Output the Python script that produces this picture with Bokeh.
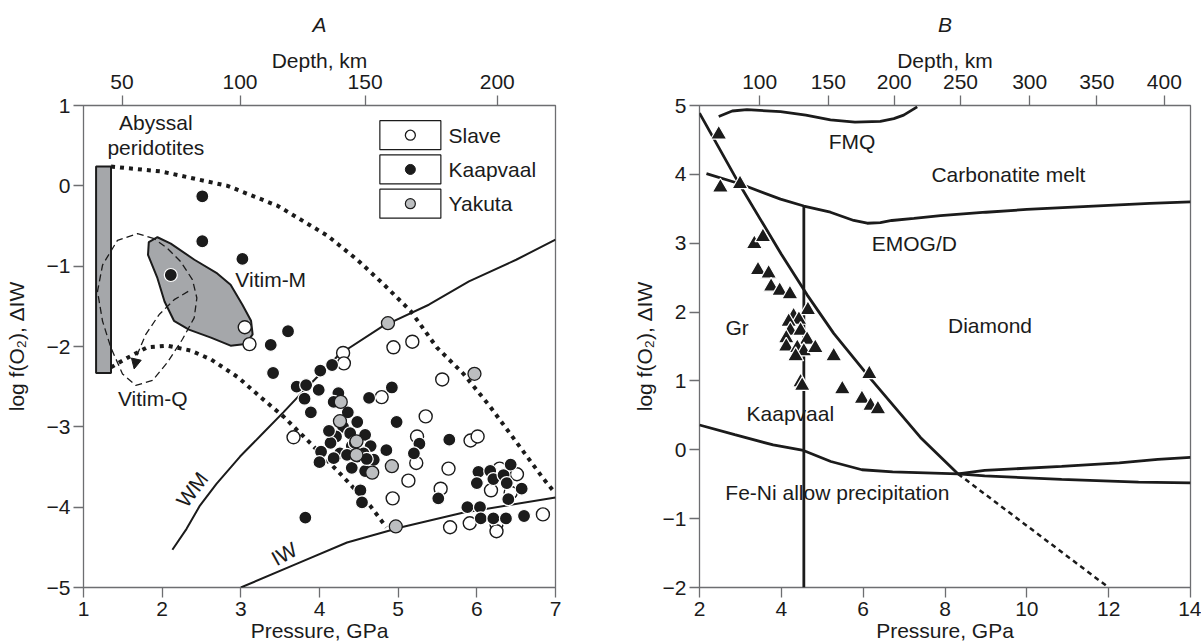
from bokeh.plotting import figure
from bokeh.layouts import row
from bokeh.models import FixedTicker, LinearAxis, Range1d, Arrow, NormalHead
from bokeh.core.properties import value
from bokeh.embed import file_html
from bokeh.resources import INLINE

# ------------------------------------------------------------------ data: panel A
A_X_TICKS = [1, 2, 3, 4, 5, 6, 7]
A_Y_TICKS = [-5, -4, -3, -2, -1, 0, 1]
A_DEPTH_LABELS = ["50", "100", "150", "200"]
A_DEPTH_AT_P = [1.49, 2.99, 4.58, 6.26]

ABYSSAL_P = [1.16, 1.35]
ABYSSAL_F = [-2.33, 0.24]

UPPER_P = [1.35, 1.98, 2.83, 3.47, 4.10, 4.48, 4.82, 5.16, 5.49, 5.83, 6.17, 6.51, 6.85, 7.00]
UPPER_F = [0.24, 0.18, 0.00, -0.25, -0.62, -0.92, -1.23, -1.56, -2.01, -2.34, -2.75, -3.20, -3.65, -3.83]

LOWER_P = [1.35, 1.56, 1.81, 2.07, 2.36, 2.62, 2.96, 3.25, 3.54, 3.88, 4.30, 4.65, 4.85]
LOWER_F = [-2.26, -2.14, -2.01, -1.99, -2.05, -2.16, -2.38, -2.63, -2.87, -3.20, -3.62, -3.99, -4.25]

WM_P = [2.13, 2.31, 2.48, 2.69, 2.99, 3.28, 3.54, 3.80, 4.25, 4.80, 5.39, 5.90, 6.50, 7.00]
WM_F = [-4.53, -4.27, -3.98, -3.71, -3.37, -3.08, -2.82, -2.55, -2.10, -1.75, -1.48, -1.19, -0.92, -0.67]

IW_P = [3.00, 3.70, 4.35, 5.04, 5.82, 7.00]
IW_F = [-5.00, -4.71, -4.44, -4.25, -4.07, -3.88]

VITIM_M_P = [1.83, 1.94, 2.11, 2.41, 2.70, 2.87, 3.02, 3.13, 3.15, 3.06, 2.87, 2.62, 2.34, 2.15, 2.03, 1.94, 1.82]
VITIM_M_F = [-0.70, -0.64, -0.72, -0.92, -1.09, -1.23, -1.48, -1.68, -1.85, -1.97, -1.99, -1.89, -1.79, -1.68, -1.44, -1.15, -0.86]

VITIM_Q_LOOP_P = [1.898, 1.686, 1.432, 1.242, 1.178, 1.242, 1.347, 1.496, 1.665, 1.877, 2.068, 2.258, 2.407, 2.441, 2.386, 2.237, 2.068, 1.898]
VITIM_Q_LOOP_F = [-0.657, -0.595, -0.678, -0.986, -1.314, -1.684, -2.012, -2.341, -2.485, -2.423, -2.197, -1.910, -1.643, -1.396, -1.170, -0.945, -0.780, -0.657]

VITIM_Q_PATH_P = [2.331, 2.153, 1.962, 1.792, 1.686, 1.644]
VITIM_Q_PATH_F = [-1.314, -1.417, -1.602, -1.848, -2.094, -2.279]

SLAVE_P = [3.05, 3.11, 4.30, 4.31, 4.94, 5.18, 5.56, 4.79, 5.35, 3.67, 5.24, 5.23, 5.64, 5.13,
           4.93, 5.54, 5.92, 6.01, 6.29, 6.51, 6.18, 6.43, 5.66, 5.91, 6.25, 6.25, 6.84]
SLAVE_F = [-1.76, -1.97, -2.08, -2.21, -2.01, -1.94, -2.41, -2.63, -2.87, -3.13, -3.12, -3.45, -3.52, -3.67,
           -3.89, -3.77, -3.17, -3.12, -3.52, -3.59, -3.79, -3.82, -4.25, -4.20, -4.21, -4.30, -4.09]

KAAP_P = [2.51, 2.51, 3.02, 2.11, 3.60, 3.38, 3.41, 4.01, 4.16, 3.71, 3.83, 3.99, 3.81, 3.89,
          4.24, 4.18, 4.36, 4.48, 4.30, 4.21, 4.14, 4.02, 4.00, 4.26, 4.39, 4.63, 4.92, 4.98,
          4.58, 4.65, 4.56, 4.69, 4.41, 4.58, 4.85, 4.52, 4.54, 3.82, 5.27, 5.20, 5.65, 5.51,
          6.02, 6.17, 6.00, 6.21, 6.34, 6.43, 6.38, 6.57, 6.40, 5.88, 6.04, 6.05, 6.21, 6.37,
          6.60, 4.41, 4.35, 4.48, 4.60, 4.18, 4.12, 4.45]
KAAP_F = [-0.13, -0.69, -0.91, -1.11, -1.81, -1.98, -2.33, -2.30, -2.23, -2.50, -2.48, -2.54, -2.65, -2.82,
          -2.58, -2.69, -2.82, -2.94, -3.00, -3.12, -3.20, -3.31, -3.44, -3.33, -3.08, -2.64, -2.51, -2.94,
          -3.10, -3.24, -3.33, -3.41, -3.51, -3.55, -3.29, -3.79, -3.94, -4.13, -3.21, -3.33, -3.16, -3.89,
          -3.56, -3.55, -3.70, -3.65, -3.60, -3.47, -3.70, -3.77, -3.90, -4.00, -4.00, -4.14, -4.14, -4.14,
          -4.11, -3.24, -3.35, -3.37, -3.40, -3.39, -3.05, -3.20]

YAK_P = [4.87, 5.97, 4.27, 4.26, 4.47, 4.47, 4.67, 4.92, 4.97]
YAK_F = [-1.71, -2.34, -2.69, -2.93, -3.18, -3.35, -3.57, -3.49, -4.24]

LEGEND_NAMES = ["Slave", "Kaapvaal", "Yakuta"]

A_TEXT = ["Abyssal", "peridotites", "Vitim-M", "Vitim-Q"]
A_TEXT_P = [1.92, 1.92, 3.38, 1.88]
A_TEXT_F = [0.79, 0.48, -1.17, -2.65]

# ------------------------------------------------------------------ data: panel B
B_X_TICKS = [2, 4, 6, 8, 10, 12, 14]
B_Y_TICKS = [-2, -1, 0, 1, 2, 3, 4, 5]
B_DEPTH_LABELS = ["100", "150", "200", "250", "300", "350", "400"]
B_DEPTH_AT_P = [3.47, 5.15, 6.76, 8.38, 10.07, 11.71, 13.36]

FMQ_P = [2.47, 2.80, 3.16, 3.98, 4.60, 5.20, 5.80, 6.42, 6.75, 6.99, 7.32]
FMQ_F = [4.84, 4.92, 4.94, 4.91, 4.86, 4.79, 4.76, 4.77, 4.81, 4.86, 4.98]

EMOG_P = [2.17, 3.00, 3.98, 4.55, 5.20, 5.77, 6.10, 6.42, 6.70, 7.24, 7.89, 9.0, 10.0, 11.0, 12.0, 13.0, 14.0]
EMOG_F = [4.01, 3.86, 3.64, 3.54, 3.45, 3.33, 3.29, 3.30, 3.33, 3.36, 3.40, 3.45, 3.49, 3.52, 3.55, 3.58, 3.60]

GD_P = [2.00, 3.00, 4.00, 4.63, 5.28, 6.20, 7.40, 8.32]
GD_F = [4.89, 3.83, 2.84, 2.25, 1.69, 1.02, 0.18, -0.35]

GD_EXT_P = [8.32, 12.0]
GD_EXT_F = [-0.35, -2.0]

KAAP_SECTION_P = [4.55, 4.55]
KAAP_SECTION_F = [3.55, -2.0]

FENI_P = [2.00, 2.86, 3.80, 4.54, 5.21, 5.97, 6.72, 8.32, 8.97, 10.85, 12.26, 13.20, 14.00]
FENI_F = [0.36, 0.22, 0.07, -0.01, -0.17, -0.29, -0.32, -0.35, -0.30, -0.24, -0.19, -0.14, -0.11]

FENI_LOW_P = [8.32, 8.97, 10.85, 12.73, 14.00]
FENI_LOW_F = [-0.35, -0.38, -0.43, -0.47, -0.48]

TRI_P = [2.47, 2.51, 2.99, 3.34, 3.55, 3.43, 3.69, 3.75, 3.96, 4.21, 4.65, 4.30, 4.43, 4.18, 4.22,
         4.47, 4.12, 4.63, 4.12, 4.39, 4.55, 4.83, 4.35, 5.28, 4.47, 4.51, 6.15, 5.49, 5.97, 6.18, 6.36]
TRI_F = [4.58, 3.81, 3.86, 2.99, 3.09, 2.61, 2.56, 2.37, 2.31, 2.26, 2.03, 1.94, 1.89, 1.86, 1.73,
         1.73, 1.62, 1.60, 1.50, 1.48, 1.43, 1.48, 1.36, 1.36, 0.98, 0.93, 1.10, 0.88, 0.74, 0.64, 0.59]

B_TEXT = ["FMQ", "Carbonatite melt", "EMOG/D", "Diamond", "Gr", "Kaapvaal", "Fe-Ni allow precipitation"]
B_TEXT_P = [5.73, 9.55, 7.25, 9.10, 2.92, 4.22, 5.37]
B_TEXT_F = [4.47, 4.00, 3.00, 1.80, 1.77, 0.52, -0.62]

X_TITLE = "Pressure, GPa"
Y_TITLE = "log f(O\u2082), \u0394IW"
TOP_TITLE = "Depth, km"

# ------------------------------------------------------------------ styles
FONT = "Liberation Sans"
FS = "21px"
INK = "#1b1b1b"
FRAME = "#6d6e71"
GRAY = "#a5a7aa"
LIGHT_GRAY = "#bcbec0"


def fmt(v):
    return str(v).replace("-", "\u2212")


def style_axis(ax, ticks, labels=None, standoff=3):
    ax.ticker = FixedTicker(ticks=ticks)
    if labels is None:
        labels = [fmt(t) for t in ticks]
    ax.major_label_overrides = {t: l for t, l in zip(ticks, labels)}
    ax.axis_line_color = None
    ax.major_tick_line_color = FRAME
    ax.major_tick_line_width = 1.3
    ax.major_tick_out = 10
    ax.major_tick_in = 0
    ax.minor_tick_line_color = None
    ax.major_label_text_font = FONT
    ax.major_label_text_font_size = FS
    ax.major_label_text_color = INK
    ax.major_label_standoff = standoff
    ax.axis_label_text_font = FONT
    ax.axis_label_text_font_size = FS
    ax.axis_label_text_font_style = "normal"
    ax.axis_label_text_color = INK


def make_fig(width, xr, yr, left, right, top, bottom, title):
    p = figure(width=width, height=644, x_range=Range1d(*xr), y_range=Range1d(*yr),
               output_backend="svg", toolbar_location=None,
               min_border_left=left, min_border_right=right,
               min_border_top=top, min_border_bottom=bottom, title=title)
    p.grid.visible = False
    p.outline_line_color = FRAME
    p.outline_line_width = 1.3
    p.background_fill_color = "white"
    p.border_fill_color = "white"
    p.title.align = "center"
    p.title.text_font = FONT
    p.title.text_font_size = FS
    p.title.text_font_style = "italic"
    p.title.text_color = INK
    p.title.standoff = 19
    return p


def add_axes(p, xticks, yticks, depth_at, depth_labels, ylab_standoff):
    style_axis(p.xaxis[0], xticks, standoff=4)
    p.xaxis[0].axis_label = X_TITLE
    p.xaxis[0].axis_label_standoff = 0
    style_axis(p.yaxis[0], yticks)
    p.yaxis[0].axis_label = Y_TITLE
    p.yaxis[0].axis_label_standoff = ylab_standoff
    top = LinearAxis(axis_label=TOP_TITLE)
    style_axis(top, depth_at, depth_labels, standoff=7)
    top.axis_label_standoff = 0
    p.add_layout(top, "above")


def txt(p, xs, ys, labels, angle=0.0, align="center"):
    p.text(x=xs, y=ys, text=labels, angle=angle, text_font=value(FONT), text_font_size=value(FS),
           text_color=INK, text_align=align, text_baseline="middle")


# ------------------------------------------------------------------ panel A
pA = make_fig(600, (1, 7), (-5, 1), 83, 45, 102, 57, "A")
add_axes(pA, A_X_TICKS, A_Y_TICKS, A_DEPTH_AT_P, A_DEPTH_LABELS, 16)

pA.patch(VITIM_M_P, VITIM_M_F, fill_color=GRAY, line_color=INK, line_width=2)
pA.quad(left=[ABYSSAL_P[0]], right=[ABYSSAL_P[1]], bottom=[ABYSSAL_F[0]], top=[ABYSSAL_F[1]],
        fill_color=GRAY, line_color=INK, line_width=2)
pA.line(UPPER_P, UPPER_F, line_color=INK, line_width=4, line_dash="4 5", line_cap="butt")
pA.line(LOWER_P, LOWER_F, line_color=INK, line_width=4, line_dash="4 5", line_cap="butt")
pA.line(WM_P, WM_F, line_color=INK, line_width=2)
pA.line(IW_P, IW_F, line_color=INK, line_width=2)
pA.line(VITIM_Q_LOOP_P, VITIM_Q_LOOP_F, line_color=INK, line_width=1.3, line_dash="7 4")
pA.line(VITIM_Q_PATH_P, VITIM_Q_PATH_F, line_color=INK, line_width=1.3, line_dash="7 4")
pA.add_layout(Arrow(end=NormalHead(size=10, fill_color=INK, line_color=INK),
                    line_color=None,
                    x_start=VITIM_Q_PATH_P[-2], y_start=VITIM_Q_PATH_F[-2],
                    x_end=VITIM_Q_PATH_P[-1], y_end=VITIM_Q_PATH_F[-1]))

pA.scatter(SLAVE_P, SLAVE_F, size=13, fill_color="white", line_color=INK, line_width=1.4)
pA.scatter(KAAP_P, KAAP_F, size=13, fill_color=INK, line_color="white", line_width=1.2)
pA.scatter(YAK_P, YAK_F, size=13, fill_color=LIGHT_GRAY, line_color=INK, line_width=1.3)

# legend (layout constants)
LEG_X, LEG_TX = 5.155, 5.64
LEG_Y = [0.63, 0.204, -0.222]
pA.rect(x=[LEG_X] * 3, y=LEG_Y, width=61, height=29, width_units="screen", height_units="screen",
        fill_color="white", line_color=INK, line_width=1.2)
pA.scatter([LEG_X], [LEG_Y[0]], size=10, fill_color="white", line_color=INK, line_width=1.3)
pA.scatter([LEG_X], [LEG_Y[1]], size=10, fill_color=INK, line_color=INK)
pA.scatter([LEG_X], [LEG_Y[2]], size=10, fill_color=LIGHT_GRAY, line_color=INK, line_width=1.2)
txt(pA, [LEG_TX] * 3, LEG_Y, LEGEND_NAMES, align="left")

txt(pA, A_TEXT_P, A_TEXT_F, A_TEXT)
txt(pA, [2.38], [-3.78], ["WM"], angle=0.92)
txt(pA, [3.55], [-4.58], ["IW"], angle=0.5)

# ------------------------------------------------------------------ panel B
pB = make_fig(601, (2, 14), (-2, 5), 99, 11, 105, 57, "B")
add_axes(pB, B_X_TICKS, B_Y_TICKS, B_DEPTH_AT_P, B_DEPTH_LABELS, 4)

for xs, ys in [(FMQ_P, FMQ_F), (EMOG_P, EMOG_F), (GD_P, GD_F), (KAAP_SECTION_P, KAAP_SECTION_F),
               (FENI_P, FENI_F), (FENI_LOW_P, FENI_LOW_F)]:
    pB.line(xs, ys, line_color=INK, line_width=2.8)
pB.line(GD_EXT_P, GD_EXT_F, line_color=INK, line_width=2.5, line_dash="5 4")

pB.scatter(TRI_P, TRI_F, marker="triangle", size=16, fill_color=INK, line_color="white", line_width=1.2)

txt(pB, B_TEXT_P, B_TEXT_F, B_TEXT)

layout = row(pA, pB)
open("out.html", "w").write(file_html(layout, INLINE))
